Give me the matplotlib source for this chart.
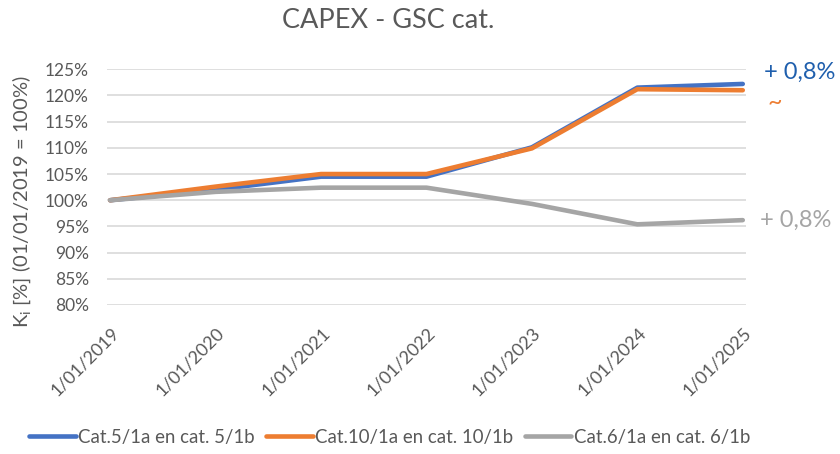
import matplotlib
matplotlib.use("Agg")
import matplotlib.pyplot as plt
from matplotlib.transforms import ScaledTranslation

plt.rcParams['font.family'] = ['Lato', 'DejaVu Sans']

dates = ["1/01/2019", "1/01/2020", "1/01/2021", "1/01/2022", "1/01/2023", "1/01/2024", "1/01/2025"]
series_names = ["Cat.5/1a en cat. 5/1b", "Cat.10/1a en cat. 10/1b", "Cat.6/1a en cat. 6/1b"]
cat5 = [100.0, 102.0, 104.5, 104.5, 110.1, 121.5, 122.2]
cat10 = [100.0, 102.6, 105.0, 105.0, 109.9, 121.2, 121.0]
cat6 = [100.0, 101.6, 102.4, 102.4, 99.3, 95.4, 96.2]
yticks = [80, 85, 90, 95, 100, 105, 110, 115, 120, 125]
colors = ["#4472C4", "#ED7D31", "#A5A5A5"]

fig = plt.figure(figsize=(8.4, 4.54), dpi=100)
ax = fig.add_axes([0.1274, 0.3282, 0.7606, 0.5192])

x = list(range(len(dates)))
for vals, name, c in zip([cat5, cat10, cat6], series_names, colors):
    ax.plot(x, vals, color=c, lw=3.3, label=name, solid_capstyle='round', solid_joinstyle='round')

ax.set_xlim(-0.03, 6.03)
ax.set_ylim(80, 125)
ax.set_yticks(yticks)
ax.set_yticklabels([f"{v}%" for v in yticks])
ax.set_xticks(x)
ax.set_xticklabels(dates, rotation=45, ha='right', va='center', rotation_mode='anchor')
ax.tick_params(axis='both', length=0, labelcolor='#595959')
ax.tick_params(axis='x', pad=18, labelsize=13)
ax.tick_params(axis='y', pad=13, labelsize=12.5)
offset = ScaledTranslation(6 / 100, 0, fig.dpi_scale_trans)
for lab in ax.get_xticklabels():
    lab.set_transform(lab.get_transform() + offset)
ax.grid(axis='y', color='#D9D9D9', lw=1.2)
ax.set_axisbelow(True)
for s in ax.spines.values():
    s.set_visible(False)

fig.text(0.026, 0.555, r"K$_\mathregular{i}$ [%] (01/01/2019 = 100%)", rotation=90,
         ha='center', va='center', fontsize=14.5, color='#595959')
fig.text(0.462, 0.955, "CAPEX - GSC cat.", ha='center', va='center', fontsize=19.5, color='#595959')

ax.text(6.2, 124.5, "+ 0,8%", color='#1F5FAD', fontsize=17, ha='left', va='center', clip_on=False)
ax.text(6.23, 118.7, "~", color='#ED7D31', fontsize=18, ha='left', va='center', clip_on=False)
ax.text(6.16, 96.2, "+ 0,8%", color='#A5A5A5', fontsize=17, ha='left', va='center', clip_on=False)

fig.legend(loc='center', bbox_to_anchor=(0.464, 0.037), ncol=3, frameon=False, fontsize=13.4,
           handlelength=2.5, handletextpad=0.15, columnspacing=0.6, labelcolor='#595959')

fig.savefig("out.png", dpi=100)
